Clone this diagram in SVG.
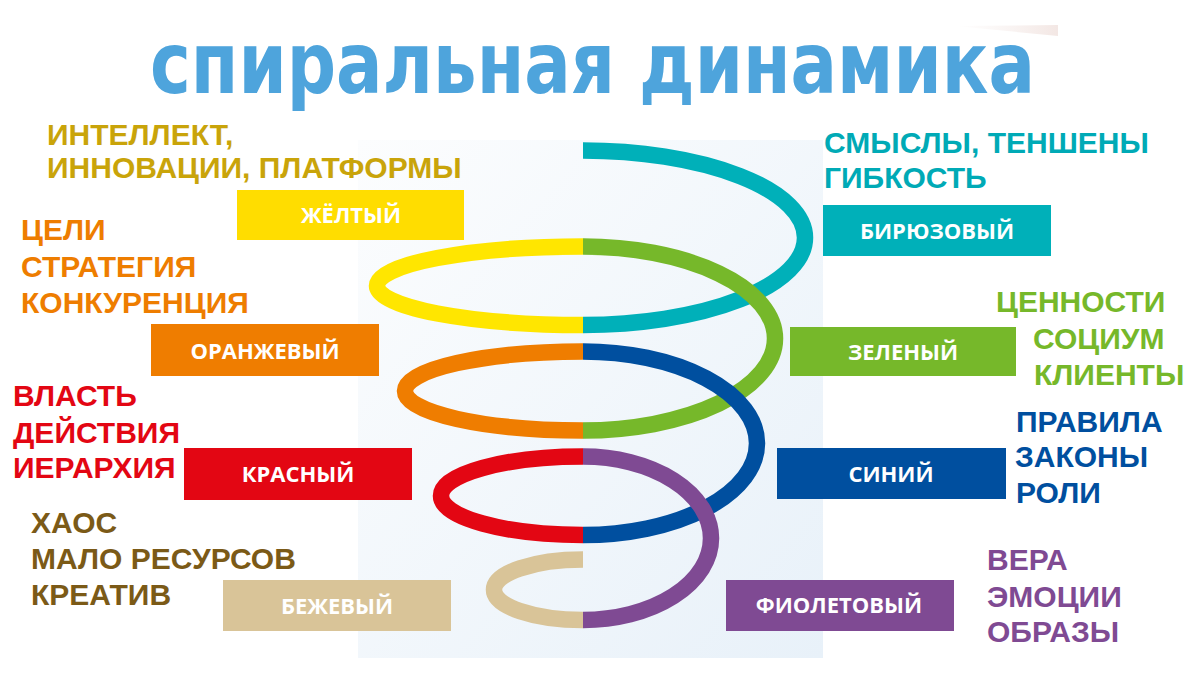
<svg xmlns="http://www.w3.org/2000/svg" width="1200" height="675" viewBox="0 0 1200 675">
<defs>
<linearGradient id="panelGrad" x1="0" y1="0" x2="1" y2="1">
<stop offset="0" stop-color="#fcfdfe"/>
<stop offset="1" stop-color="#e8f1f9"/>
</linearGradient>
<linearGradient id="swoosh" x1="0" y1="0" x2="1" y2="0">
<stop offset="0" stop-color="#f6eeec" stop-opacity="0"/>
<stop offset="1" stop-color="#f3e7e4"/>
</linearGradient>
<style>
.title{font-family:"DejaVu Sans Condensed","DejaVu Sans","Liberation Sans",sans-serif;font-weight:bold;fill:#4ea4dc}
.box-label{font-family:"Open Sans","Liberation Sans",sans-serif;font-weight:bold;font-size:22px;fill:#ffffff;text-anchor:middle}
.desc{font-family:"Liberation Sans",Arial,sans-serif;font-weight:bold;font-size:30px}
.seg{fill:none;stroke-width:16.5;stroke-linecap:butt}
</style>
</defs>
<rect width="1200" height="675" fill="#ffffff"/>
<path d="M955,26 L1058,25 L1058,36 Z" fill="url(#swoosh)"/>
<rect id="panel" x="358" y="140" width="465" height="518" fill="url(#panelGrad)"/>
<text class="title" x="150" y="93" font-size="86" textLength="885" lengthAdjust="spacingAndGlyphs">спиральная динамика</text>

<g id="spiral">
<path class="seg" stroke="#ffe600" d="M583,246.5 A206,39.25 0 0 0 583,325"/>
<path class="seg" stroke="#ef7d00" d="M583,351.5 A178,39.5 0 0 0 583,430.5"/>
<path class="seg" stroke="#e30613" d="M583,456.5 A142,39.25 0 0 0 583,535"/>
<path class="seg" stroke="#d9c498" d="M583,559.5 A89,30.25 0 0 0 583,620"/>
<path class="seg" stroke="#00b0b9" d="M583,150.5 A222,87.25 0 0 1 583,325"/>
<path class="seg" stroke="#76b82a" d="M583,246.5 A192,92 0 0 1 583,430.5"/>
<path class="seg" stroke="#004f9f" d="M583,351.5 A174,91.75 0 0 1 583,535"/>
<path class="seg" stroke="#7f4a93" d="M583,456.5 A128,81.75 0 0 1 583,620"/>
</g>

<g id="yellow">
<rect x="237" y="190" width="227" height="50" fill="#ffdd00"/>
<text class="box-label" x="351" y="223">ЖЁЛТЫЙ</text>
<text class="desc" fill="#c9a40a" font-size="31.5"><tspan x="47" y="145">ИНТЕЛЛЕКТ,</tspan><tspan x="47" y="178">ИННОВАЦИИ, ПЛАТФОРМЫ</tspan></text>
</g>

<g id="orange">
<rect x="151" y="324" width="228" height="52" fill="#ef7d00"/>
<text class="box-label" x="265" y="359">ОРАНЖЕВЫЙ</text>
<text class="desc" fill="#ee7d00"><tspan x="21" y="240">ЦЕЛИ</tspan><tspan x="21" y="277">СТРАТЕГИЯ</tspan><tspan x="21" y="313">КОНКУРЕНЦИЯ</tspan></text>
</g>

<g id="red">
<rect x="184" y="448" width="228" height="52" fill="#e30613"/>
<text class="box-label" x="298" y="482">КРАСНЫЙ</text>
<text class="desc" fill="#e30613"><tspan x="13" y="406">ВЛАСТЬ</tspan><tspan x="13" y="443">ДЕЙСТВИЯ</tspan><tspan x="13" y="478">ИЕРАРХИЯ</tspan></text>
</g>

<g id="beige">
<rect x="223" y="580" width="228" height="51" fill="#d9c498"/>
<text class="box-label" x="337" y="614" fill="#fbf7ef">БЕЖЕВЫЙ</text>
<text class="desc" fill="#7b5a17"><tspan x="31" y="533">ХАОС</tspan><tspan x="31" y="569">МАЛО РЕСУРСОВ</tspan><tspan x="31" y="605">КРЕАТИВ</tspan></text>
</g>

<g id="turquoise">
<rect x="823" y="205" width="228" height="51" fill="#00b0b9"/>
<text class="box-label" x="937" y="239">БИРЮЗОВЫЙ</text>
<text class="desc" fill="#00aab6"><tspan x="824" y="153">СМЫСЛЫ, ТЕНШЕНЫ</tspan><tspan x="824" y="188">ГИБКОСТЬ</tspan></text>
</g>

<g id="green">
<rect x="790" y="327" width="226" height="49" fill="#76b82a"/>
<text class="box-label" x="903" y="360">ЗЕЛЕНЫЙ</text>
<text class="desc" fill="#76b82a"><tspan x="996" y="312">ЦЕННОСТИ</tspan><tspan x="1033" y="349">СОЦИУМ</tspan><tspan x="1034" y="385">КЛИЕНТЫ</tspan></text>
</g>

<g id="blue">
<rect x="777" y="448" width="229" height="51" fill="#004f9f"/>
<text class="box-label" x="891" y="482">СИНИЙ</text>
<text class="desc" fill="#004f9f"><tspan x="1016" y="432">ПРАВИЛА</tspan><tspan x="1015" y="467">ЗАКОНЫ</tspan><tspan x="1016" y="503">РОЛИ</tspan></text>
</g>

<g id="purple">
<rect x="726" y="580" width="228" height="51" fill="#7f4a93"/>
<text class="box-label" x="839" y="613">ФИОЛЕТОВЫЙ</text>
<text class="desc" fill="#7f4a93"><tspan x="987" y="570">ВЕРА</tspan><tspan x="987" y="607">ЭМОЦИИ</tspan><tspan x="987" y="642">ОБРАЗЫ</tspan></text>
</g>
</svg>
